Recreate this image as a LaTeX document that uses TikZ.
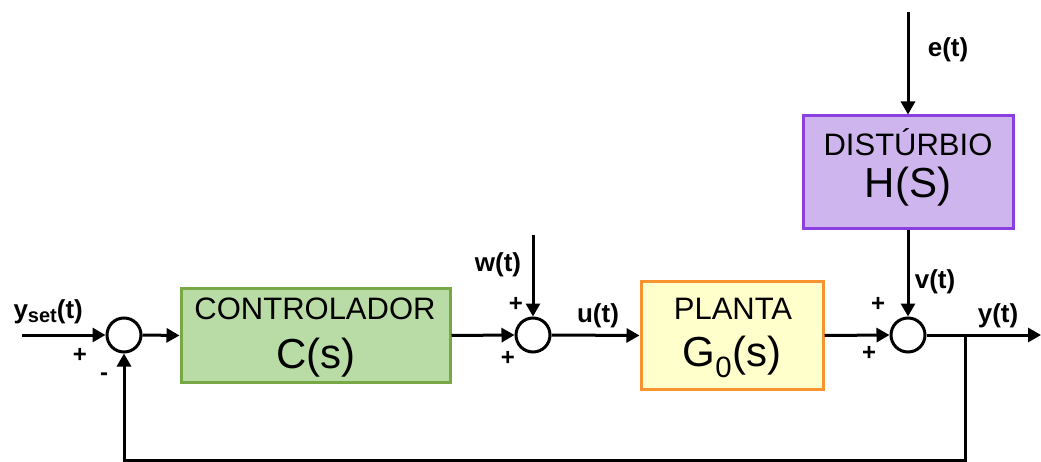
\documentclass[tikz,border=0pt]{standalone}
\usepackage{fontspec}
\setmainfont{Liberation Sans}
\usetikzlibrary{arrows.meta}
\definecolor{cfill}{HTML}{B9DCA6}
\definecolor{cdraw}{HTML}{77A845}
\definecolor{pfill}{HTML}{FFFFCC}
\definecolor{pdraw}{HTML}{F79331}
\definecolor{dfill}{HTML}{CEB5EE}
\definecolor{ddraw}{HTML}{8B3FDE}
\begin{document}
\begin{tikzpicture}[x=1pt,y=-1pt,
  line width=3pt,
  sumnode/.style={circle,draw=black,fill=white,line width=3pt,minimum size=34pt,inner sep=0pt},
  blk/.style={rectangle,line width=3pt,inner sep=0pt},
  boxsmall/.style={anchor=base,inner sep=0pt,font=\fontsize{31}{31}\selectfont},
  boxbig/.style={anchor=base,inner sep=0pt,font=\fontsize{42}{42}\selectfont},
  sig/.style={anchor=base,inner sep=0pt,font=\fontsize{26}{26}\selectfont\bfseries},
  sgn/.style={inner sep=0pt,font=\fontsize{24}{24}\selectfont\bfseries},
  arr/.style={-{Triangle[length=13pt,width=14pt]},line width=3pt}
]
\useasboundingbox (0,0) rectangle (1041,462);
% blocks
\node[blk,fill=cfill,draw=cdraw,minimum width=269pt,minimum height=93pt] (C) at (315.5,335.5) {};
\node[blk,fill=pfill,draw=pdraw,minimum width=182pt,minimum height=107pt] (P) at (732,335.5) {};
\node[blk,fill=dfill,draw=ddraw,minimum width=210pt,minimum height=113pt] (D) at (908,172.5) {};
% block texts
\node[boxsmall] (Ct) at (315,319) {CONTROLADOR};
\node[boxbig] (Cs) at (316,368) {C(s)};
\node[boxsmall] (Pt) at (733,319) {PLANTA};
\node[boxbig] (Ps) at (732,366) {G\textsubscript{0}(s)};
\node[boxsmall] (Dt) at (908,156) {DIST\'URBIO};
\node[boxbig] (Ds) at (908,198) {H(S)};
% summing junctions
\node[sumnode] (s1) at (124,335) {};
\node[sumnode] (s2) at (533,335) {};
\node[sumnode] (s3) at (908,335) {};
% free ends
\coordinate (yin) at (22,335);
\coordinate (win) at (533,235);
\coordinate (ein) at (908,12);
\coordinate (yout) at (1041,335);
\coordinate (tap) at (965,335);
\coordinate (fb) at (965,460);
% connectors
\draw[arr] (yin) -- (s1.west);
\draw[arr] (s1.east) -- (C.west);
\draw[arr] (C.east) -- (s2.west);
\draw[arr] (win) -- (s2.north);
\draw[arr] (s2.east) -- (P.west);
\draw[arr] (P.east) -- (s3.west);
\draw[arr] (ein) -- (D.north);
\draw[arr] (D.south) -- (s3.north);
\draw[arr] (s3.east) -- (yout);
\draw[arr] (tap) -- (fb) -| (s1.south);
% signal labels
\node[sig,anchor=base west] (ly) at (12,318) {y{\fontsize{20}{20}\selectfont\raisebox{-4pt}{set}}(t)};
\node[sig] (lu) at (598,323) {u(t)};
\node[sig] (lw) at (498,272) {w(t)};
\node[sig] (lv) at (935,288) {v(t)};
\node[sig] (lyo) at (998,322) {y(t)};
\node[sig] (le) at (948,57) {e(t)};
% signs
\node[sgn] (p1) at (80,355) {+};
\node[sgn] (m1) at (104,377) {-};
\node[sgn] (p2a) at (516,304) {+};
\node[sgn] (p2b) at (508,358) {+};
\node[sgn] (p3a) at (878,304) {+};
\node[sgn] (p3b) at (869,353) {+};
\end{tikzpicture}
\end{document}
